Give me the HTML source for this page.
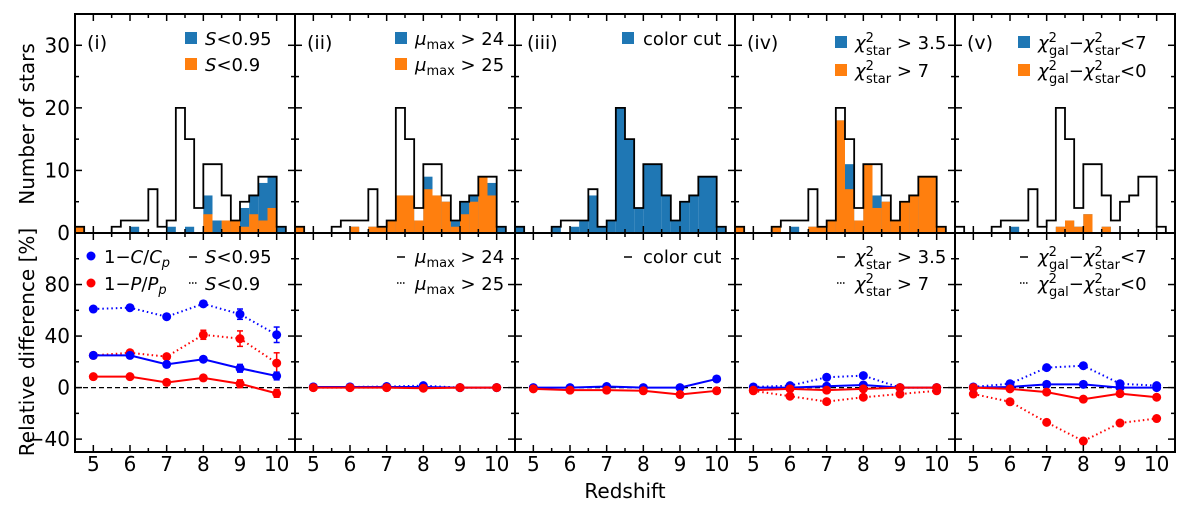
<!DOCTYPE html>
<html><head><meta charset="utf-8"><style>
body{margin:0;background:#fff;}
svg{display:block;font-family:"DejaVu Sans","Liberation Sans",sans-serif;}
</style></head><body>
<svg id="fig" width="1200" height="505" viewBox="0 0 1200 505" xmlns="http://www.w3.org/2000/svg"></svg>
<script>
// ---- data ----
const binStart = 4.5, binWidth = 0.25;
const totalCounts = [1,0,0,0,1,2,2,2,7,1,2,20,15,4,11,11,6,2,5,6,9,9,1,0];
const blueCountsI   = [1,0,0,0,0,0,1,0,0,0,1,0,1,0,6,2,2,2,4,6,8,9,1,0];
const orangeCountsI = [1,0,0,0,0,0,0,0,0,0,0,0,0,0,3,0,2,2,1,3,2,4,0,0];
const blueCountsII   = [1,0,0,0,0,0,1,0,1,1,2,6,6,2,9,6,5,2,5,6,9,8,1,0];
const orangeCountsII = [1,0,0,0,0,0,1,0,1,1,2,6,6,2,7,6,5,1,3,5,9,6,0,0];
const blueCountsIII   = [1,0,0,0,1,0,1,2,6,1,2,20,15,4,11,11,6,2,5,6,9,9,1,0];
const orangeCountsIII = [0,0,0,0,0,0,0,0,0,0,0,0,0,0,0,0,0,0,0,0,0,0,0,0];
const blueCountsIV   = [1,0,0,0,1,0,1,0,1,1,2,18,11,2,11,6,5,2,5,6,9,9,1,0];
const orangeCountsIV = [1,0,0,0,1,0,0,0,1,1,2,18,7,2,11,4,5,2,5,6,9,9,1,0];
const blueCountsV   = [0,0,0,0,0,0,1,0,0,0,0,1,2,1,3,0,1,0,0,0,0,0,0,0];
const orangeCountsV = [0,0,0,0,0,0,0,0,0,0,0,1,2,1,3,0,1,0,0,0,0,0,0,0];

const redshifts = [5,6,7,8,9,10];
const cSolidI  = [25,25,18,22,15,9];
const cDotI    = [61,62,55,65,57,41];
const pSolidI  = [8.5,8.5,4,7.5,3,-4.5];
const pDotI    = [25,27,24,41,38,19];
const cSolidErrI = [1.5,1.5,2,2,3,3];
const cDotErrI   = [1.5,1.5,1.5,2,4,6];
const pSolidErrI = [1.5,1.5,1.5,1.5,3,3];
const pDotErrI   = [1.5,1.5,1.5,3.5,6,8];
const cSolidII = [0.5,0.5,0.5,0.5,0,0];
const cDotII   = [0.5,0.5,0.8,1.5,0,0];
const pSolidII = [0,0,0,-0.5,0,0];
const pDotII   = [0,0,0,0,0,0];
const cSolidIII = [0,0,0.8,0,0,6.7];
const pSolidIII = [-1,-2,-2,-2.5,-5.4,-2.5];
const cSolidIV = [0,0,1,2,0,0];
const cDotIV   = [0.5,1.5,8,9.3,0,0];
const pSolidIV = [-2,-1,-2,-1,0,0];
const pDotIV   = [-2.5,-6.7,-10.9,-7.5,-5,-2.5];
const cSolidV = [0,0.5,2.5,2.5,0,0];
const cDotV   = [0.5,3,15.5,17,3,1.5];
const pSolidV = [0,-1,-3.5,-9,-4.7,-7.5];
const pDotV   = [-5,-11,-27,-41.5,-27.5,-24];

const xTicks = [5,6,7,8,9,10];
const topYTicks = [0,10,20,30];
const botYTicks = [-40,0,40,80];
const panelLabels = ["(i)","(ii)","(iii)","(iv)","(v)"];

// ---- geometry ----
const NS="http://www.w3.org/2000/svg";
const svg=document.getElementById('fig');
const panelL=[75,295,515,735,955], PW=220;
const topT=14, topB=233, botT=233, botB=452;
function xs(p,v){return panelL[p]+(v-4.5)/6*PW;}
function yTop(v){return topB-(v/35)*(topB-topT);}
function yBot(v){return botB-((v+50)/170)*(botB-botT);}
function mk(tag,attrs,parent){const e=document.createElementNS(NS,tag);for(const k in attrs)e.setAttribute(k,attrs[k]);(parent||svg).appendChild(e);return e;}

const hists=[[blueCountsI,orangeCountsI],[blueCountsII,orangeCountsII],[blueCountsIII,orangeCountsIII],[blueCountsIV,orangeCountsIV],[blueCountsV,orangeCountsV]];
const lines=[
 {cs:cSolidI,cd:cDotI,ps:pSolidI,pd:pDotI,e:[cSolidErrI,cDotErrI,pSolidErrI,pDotErrI]},
 {cs:cSolidII,cd:cDotII,ps:pSolidII,pd:pDotII},
 {cs:cSolidIII,ps:pSolidIII},
 {cs:cSolidIV,cd:cDotIV,ps:pSolidIV,pd:pDotIV},
 {cs:cSolidV,cd:cDotV,ps:pSolidV,pd:pDotV}];

for(let p=0;p<5;p++){
 const g=mk('g',{});
 
 
 const [bc,oc]=hists[p];
 [[bc,'#1f77b4','blue'],[oc,'#ff7f0e','orange']].forEach(([arr,col,nm])=>{
  arr.forEach((c,i)=>{ if(!c)return;
   const x0=xs(p,binStart+i*binWidth), x1=xs(p,binStart+(i+1)*binWidth);
   const r=mk('rect',{x:x0,y:yTop(c),width:x1-x0,height:topB-yTop(c),fill:col},g);
   
   
  });
 });
 let d='M'+xs(p,binStart)+','+topB;
 totalCounts.forEach((c,i)=>{const x0=xs(p,binStart+i*binWidth),x1=xs(p,binStart+(i+1)*binWidth);d+=' L'+x0+','+yTop(c)+' L'+x1+','+yTop(c);});
 d+=' L'+xs(p,binStart+totalCounts.length*binWidth)+','+topB;
 const st=mk('path',{d:d,fill:'none',stroke:'#000','stroke-width':1.8},g);
 
 
 mk('line',{x1:panelL[p],x2:panelL[p]+PW,y1:yBot(0),y2:yBot(0),stroke:'#000','stroke-width':1.3,'stroke-dasharray':'5 3'},g);
 const L=lines[p];
 const specs=[['cd','#0000ff','1.5 3',1],['pd','#ff0000','1.5 3',3],['cs','#0000ff',null,0],['ps','#ff0000',null,2]];
 specs.forEach(([k,col,dash,ei])=>{
  const arr=L[k]; if(!arr)return;
  const pts=redshifts.map((z,i)=>xs(p,z)+','+yBot(arr[i])).join(' ');
  const a={points:pts,fill:'none',stroke:col,'stroke-width':2};
  if(dash)a['stroke-dasharray']=dash;
  const pl=mk('polyline',a,g);
  
  
  redshifts.forEach((z,i)=>{
   const cx=xs(p,z),cy=yBot(arr[i]);
   const err=L.e?L.e[ei][i]:1;
   mk('line',{x1:cx,x2:cx,y1:yBot(arr[i]+err),y2:yBot(arr[i]-err),stroke:col,'stroke-width':1.5},g);
   mk('line',{x1:cx-3,x2:cx+3,y1:yBot(arr[i]+err),y2:yBot(arr[i]+err),stroke:col,'stroke-width':1.5},g);
   mk('line',{x1:cx-3,x2:cx+3,y1:yBot(arr[i]-err),y2:yBot(arr[i]-err),stroke:col,'stroke-width':1.5},g);
   const c=mk('circle',{cx:cx,cy:cy,r:4.5,fill:col},g);
   
   
  });
 });
 [[topT,topB],[botT,botB]].forEach(([t,b])=>mk('rect',{x:panelL[p],y:t,width:PW,height:b-t,fill:'none',stroke:'#000','stroke-width':2},g));
 for(let v=4.5;v<=10.5;v+=0.5){
  const x=xs(p,v), L2=(v%1===0)?7:4;
  [[topT,1],[topB,-1],[botT,1],[botB,-1]].forEach(([y,s])=>mk('line',{x1:x,x2:x,y1:y,y2:y+s*L2,stroke:'#000','stroke-width':1.5},g));
 }
 for(let v=5;v<35;v+=5){const y=yTop(v),L2=(v%10===0)?7:4;
  mk('line',{x1:panelL[p],x2:panelL[p]+L2,y1:y,y2:y,stroke:'#000','stroke-width':1.5},g);
  mk('line',{x1:panelL[p]+PW,x2:panelL[p]+PW-L2,y1:y,y2:y,stroke:'#000','stroke-width':1.5},g);}
 for(let v=-40;v<=100;v+=20){const y=yBot(v),L2=(v%40===0)?7:4;
  mk('line',{x1:panelL[p],x2:panelL[p]+L2,y1:y,y2:y,stroke:'#000','stroke-width':1.5},g);
  mk('line',{x1:panelL[p]+PW,x2:panelL[p]+PW-L2,y1:y,y2:y,stroke:'#000','stroke-width':1.5},g);}
 xTicks.forEach(v=>{const t=mk('text',{x:xs(p,v),y:471,'font-size':20,'text-anchor':'middle'},g);t.textContent=v;
  
  });
 const lab=mk('text',{x:panelL[p]+12,y:49,'font-size':19},g);lab.textContent=panelLabels[p];
 
 
}
topYTicks.forEach(v=>{const t=mk('text',{x:70,y:yTop(v)+7,'font-size':20,'text-anchor':'end'});t.textContent=v;
 
 });
botYTicks.forEach(v=>{const t=mk('text',{x:70,y:yBot(v)+7,'font-size':20,'text-anchor':'end'});t.textContent=(v<0?'−':'')+Math.abs(v);
 
 });
</script>
<svg width="1200" height="505" style="position:absolute;left:0;top:0" font-family="DejaVu Sans, Liberation Sans, sans-serif" font-size="18">
 <text x="0" y="0" transform="translate(34,124) rotate(-90)" text-anchor="middle" font-size="20">Number of stars</text>
 <text x="0" y="0" transform="translate(34,342) rotate(-90)" text-anchor="middle" font-size="20">Relative difference [%]</text>
 <text x="625" y="498" text-anchor="middle" font-size="20">Redshift</text>

 <g>
  <rect x="185" y="32" width="12" height="12" fill="#1f77b4"/><rect x="185" y="58" width="12" height="12" fill="#ff7f0e"/>
  <text x="205" y="45"><tspan font-style="italic">S</tspan>&lt;0.95</text>
  <text x="205" y="71"><tspan font-style="italic">S</tspan>&lt;0.9</text>
 </g>
 <g>
  <rect x="395" y="32" width="12" height="12" fill="#1f77b4"/><rect x="395" y="58" width="12" height="12" fill="#ff7f0e"/>
  <text x="415" y="45"><tspan font-style="italic">μ</tspan><tspan font-size="13" dy="4">max</tspan><tspan dy="-4"> &gt; 24</tspan></text>
  <text x="415" y="71"><tspan font-style="italic">μ</tspan><tspan font-size="13" dy="4">max</tspan><tspan dy="-4"> &gt; 25</tspan></text>
 </g>
 <g>
  <rect x="622" y="32" width="12" height="12" fill="#1f77b4"/>
  <text x="643" y="45">color cut</text>
 </g>
 <g>
  <rect x="835" y="36" width="12" height="12" fill="#1f77b4"/><rect x="835" y="64" width="12" height="12" fill="#ff7f0e"/>
  <text x="855" y="49"><tspan font-style="italic">χ</tspan><tspan font-size="13" dy="-7">2</tspan><tspan font-size="13" dx="-8" dy="13">star</tspan><tspan dy="-6"> &gt; 3.5</tspan></text>
  <text x="855" y="77"><tspan font-style="italic">χ</tspan><tspan font-size="13" dy="-7">2</tspan><tspan font-size="13" dx="-8" dy="13">star</tspan><tspan dy="-6"> &gt; 7</tspan></text>
 </g>
 <g>
  <rect x="1018" y="36" width="12" height="12" fill="#1f77b4"/><rect x="1018" y="64" width="12" height="12" fill="#ff7f0e"/>
  <text x="1038" y="49"><tspan font-style="italic">χ</tspan><tspan font-size="13" dy="-7">2</tspan><tspan font-size="13" dx="-8" dy="13">gal</tspan><tspan dy="-6">−</tspan><tspan font-style="italic">χ</tspan><tspan font-size="13" dy="-7">2</tspan><tspan font-size="13" dx="-8" dy="13">star</tspan><tspan dy="-6">&lt;7</tspan></text>
  <text x="1038" y="77"><tspan font-style="italic">χ</tspan><tspan font-size="13" dy="-7">2</tspan><tspan font-size="13" dx="-8" dy="13">gal</tspan><tspan dy="-6">−</tspan><tspan font-style="italic">χ</tspan><tspan font-size="13" dy="-7">2</tspan><tspan font-size="13" dx="-8" dy="13">star</tspan><tspan dy="-6">&lt;0</tspan></text>
 </g>

 <g>
  <circle cx="91" cy="256" r="4.5" fill="#0000ff"/><circle cx="91" cy="283" r="4.5" fill="#ff0000"/>
  <text x="104" y="263">1−<tspan font-style="italic">C</tspan>/<tspan font-style="italic">C</tspan><tspan font-size="13" dy="4" font-style="italic">p</tspan></text>
  <text x="104" y="290">1−<tspan font-style="italic">P</tspan>/<tspan font-style="italic">P</tspan><tspan font-size="13" dy="4" font-style="italic">p</tspan></text>
  <line x1="189" x2="197" y1="257" y2="257" stroke="#000" stroke-width="1.5"/>
  <line x1="189" x2="197" y1="283" y2="283" stroke="#000" stroke-width="1.5" stroke-dasharray="1.5 1.5"/>
  <text x="205" y="263"><tspan font-style="italic">S</tspan>&lt;0.95</text>
  <text x="205" y="290"><tspan font-style="italic">S</tspan>&lt;0.9</text>
 </g>
 <g>
  <line x1="397" x2="405" y1="257" y2="257" stroke="#000" stroke-width="1.5"/>
  <line x1="397" x2="405" y1="283" y2="283" stroke="#000" stroke-width="1.5" stroke-dasharray="1.5 1.5"/>
  <text x="415" y="263"><tspan font-style="italic">μ</tspan><tspan font-size="13" dy="4">max</tspan><tspan dy="-4"> &gt; 24</tspan></text>
  <text x="415" y="290"><tspan font-style="italic">μ</tspan><tspan font-size="13" dy="4">max</tspan><tspan dy="-4"> &gt; 25</tspan></text>
 </g>
 <g>
  <line x1="624" x2="632" y1="257" y2="257" stroke="#000" stroke-width="1.5"/>
  <text x="643" y="263">color cut</text>
 </g>
 <g>
  <line x1="837" x2="845" y1="257" y2="257" stroke="#000" stroke-width="1.5"/>
  <line x1="837" x2="845" y1="283" y2="283" stroke="#000" stroke-width="1.5" stroke-dasharray="1.5 1.5"/>
  <text x="855" y="263"><tspan font-style="italic">χ</tspan><tspan font-size="13" dy="-7">2</tspan><tspan font-size="13" dx="-8" dy="13">star</tspan><tspan dy="-6"> &gt; 3.5</tspan></text>
  <text x="855" y="290"><tspan font-style="italic">χ</tspan><tspan font-size="13" dy="-7">2</tspan><tspan font-size="13" dx="-8" dy="13">star</tspan><tspan dy="-6"> &gt; 7</tspan></text>
 </g>
 <g>
  <line x1="1020" x2="1028" y1="257" y2="257" stroke="#000" stroke-width="1.5"/>
  <line x1="1020" x2="1028" y1="283" y2="283" stroke="#000" stroke-width="1.5" stroke-dasharray="1.5 1.5"/>
  <text x="1038" y="263"><tspan font-style="italic">χ</tspan><tspan font-size="13" dy="-7">2</tspan><tspan font-size="13" dx="-8" dy="13">gal</tspan><tspan dy="-6">−</tspan><tspan font-style="italic">χ</tspan><tspan font-size="13" dy="-7">2</tspan><tspan font-size="13" dx="-8" dy="13">star</tspan><tspan dy="-6">&lt;7</tspan></text>
  <text x="1038" y="290"><tspan font-style="italic">χ</tspan><tspan font-size="13" dy="-7">2</tspan><tspan font-size="13" dx="-8" dy="13">gal</tspan><tspan dy="-6">−</tspan><tspan font-style="italic">χ</tspan><tspan font-size="13" dy="-7">2</tspan><tspan font-size="13" dx="-8" dy="13">star</tspan><tspan dy="-6">&lt;0</tspan></text>
 </g>
</svg>
</body></html>
